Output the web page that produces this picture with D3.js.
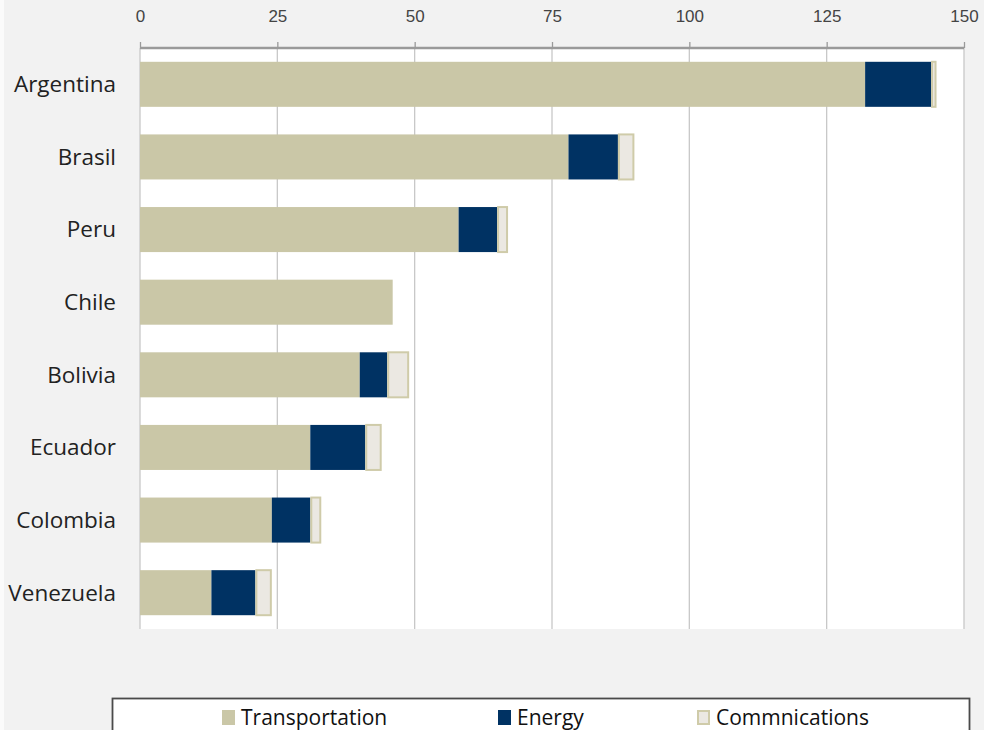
<!DOCTYPE html>
<html>
<head>
<meta charset="utf-8">
<script src="https://cdn.jsdelivr.net/npm/d3@7"></script>
<style>
  body { margin: 0; background: #f2f2f2; }
  svg { display: block; }
</style>
</head>
<body>
<svg id="chart"></svg>
<script>
const W = 984
const H = 730
const margins = { top: 48, bottom: 101, left: 140, right: 20 }
const w = 964 - margins.left
const h = H - margins.top - margins.bottom

// data
const countries = ['Argentina', 'Brasil', 'Peru', 'Chile', 'Bolivia', 'Ecuador', 'Colombia', 'Venezuela']
const transportation = [132, 78, 58, 46, 40, 31, 24, 13]
const energy = [12, 9, 7, 0, 5, 10, 7, 8]
const commnications = [1, 3, 2, 0, 4, 3, 2, 3]
const seriesNames = ['Transportation', 'Energy', 'Commnications']
const xTicks = [0, 25, 50, 75, 100, 125, 150]

const fills = { Transportation: '#cac7a7', Energy: '#003263', Commnications: '#ebe8e2' }
const strokes = { Transportation: 'none', Energy: 'none', Commnications: '#cfcba9' }

const rows = countries.map((c, i) => ({
  country: c,
  Transportation: transportation[i],
  Energy: energy[i],
  Commnications: commnications[i]
}))

const outer = d3.select('svg#chart').attr('width', W).attr('height', H)

outer.append('rect').attr('width', W).attr('height', H).attr('fill', '#f2f2f2')
outer.append('rect').attr('width', 4).attr('height', H).attr('fill', '#fbfbfb')

const inner = outer.append('g')
  .attr('transform', 'translate(' + margins.left + ',' + margins.top + ')')

inner.append('rect')
  .attr('width', w)
  .attr('height', h)
  .attr('fill', '#ffffff')

const xScale = d3.scaleLinear().domain([0, 150]).range([0, w])
const yScale = d3.scaleBand().domain(countries).range([0, h]).paddingInner(0.38).paddingOuter(0.19)

// gridlines
inner.append('g').selectAll('line')
  .data(xTicks)
  .join('line')
  .attr('x1', d => xScale(d)).attr('x2', d => xScale(d))
  .attr('y1', 0).attr('y2', h)
  .attr('stroke', '#c8c8c8')
  .attr('stroke-width', 1.3)

// stacked bars
const stack = d3.stack().keys(seriesNames)(rows)

const layers = inner.append('g').selectAll('g')
  .data(stack)
  .join('g')
  .attr('fill', d => fills[d.key])
  .attr('stroke', d => strokes[d.key])

layers.selectAll('rect')
  .data(d => d.filter(p => p[1] > p[0]).map(p => Object.assign(p, { key: d.key })))
  .join('rect')
  .attr('y', d => yScale(d.data.country))
  .attr('height', yScale.bandwidth())
  .attr('x', d => xScale(d[0]) + (d.key === 'Commnications' ? 1 : 0))
  .attr('width', d => xScale(d[1]) - xScale(d[0]) - (d.key === 'Commnications' ? 2 : 0))
  .attr('stroke-width', 2)

// top axis
const xAxis = d3.axisTop(xScale).tickValues(xTicks).tickSize(6).tickPadding(20).tickFormat(d3.format('d'))
const gx = inner.append('g').attr('class', 'x axis').call(xAxis)
gx.select('.domain').attr('stroke', '#9a9a9a').attr('stroke-width', 2.5).attr('d', 'M0,0H' + w)
gx.selectAll('.tick line').attr('stroke', '#9a9a9a').attr('stroke-width', 1.3)
gx.selectAll('.tick text')
  .attr('fill', '#444')
  .style('font-family', '"Liberation Sans", Arial, sans-serif')
  .style('font-size', '17px')

// category labels
inner.append('g').selectAll('text')
  .data(countries)
  .join('text')
  .attr('x', -24)
  .attr('y', d => yScale(d) + yScale.bandwidth() / 2)
  .attr('dy', '0.35em')
  .attr('text-anchor', 'end')
  .attr('fill', '#222')
  .style('font-family', '"Open Sans", sans-serif')
  .style('font-size', '22.5px')
  .text(d => d)

// legend
const legend = outer.append('g')
legend.append('rect')
  .attr('x', 112.5).attr('y', 698.5)
  .attr('width', 857).attr('height', 60)
  .attr('fill', '#ffffff')
  .attr('stroke', '#4a4a4a')
  .attr('stroke-width', 1.8)

const legendX = [222, 498, 697]
const items = legend.selectAll('g.item')
  .data(seriesNames)
  .join('g')
  .attr('class', 'item')
  .attr('transform', (d, i) => 'translate(' + legendX[i] + ',710)')

items.append('rect')
  .attr('x', d => d === 'Commnications' ? 1 : 0)
  .attr('y', d => d === 'Commnications' ? 1 : 0)
  .attr('width', d => d === 'Commnications' ? 11 : 13)
  .attr('height', d => d === 'Commnications' ? 13 : 15)
  .attr('fill', d => fills[d])
  .attr('stroke', d => strokes[d])
  .attr('stroke-width', 2)

items.append('text')
  .attr('x', 19)
  .attr('y', 15)
  .attr('fill', '#111')
  .style('font-family', '"Open Sans", sans-serif')
  .style('font-size', '21px')
  .text(d => d)
</script>
</body>
</html>
